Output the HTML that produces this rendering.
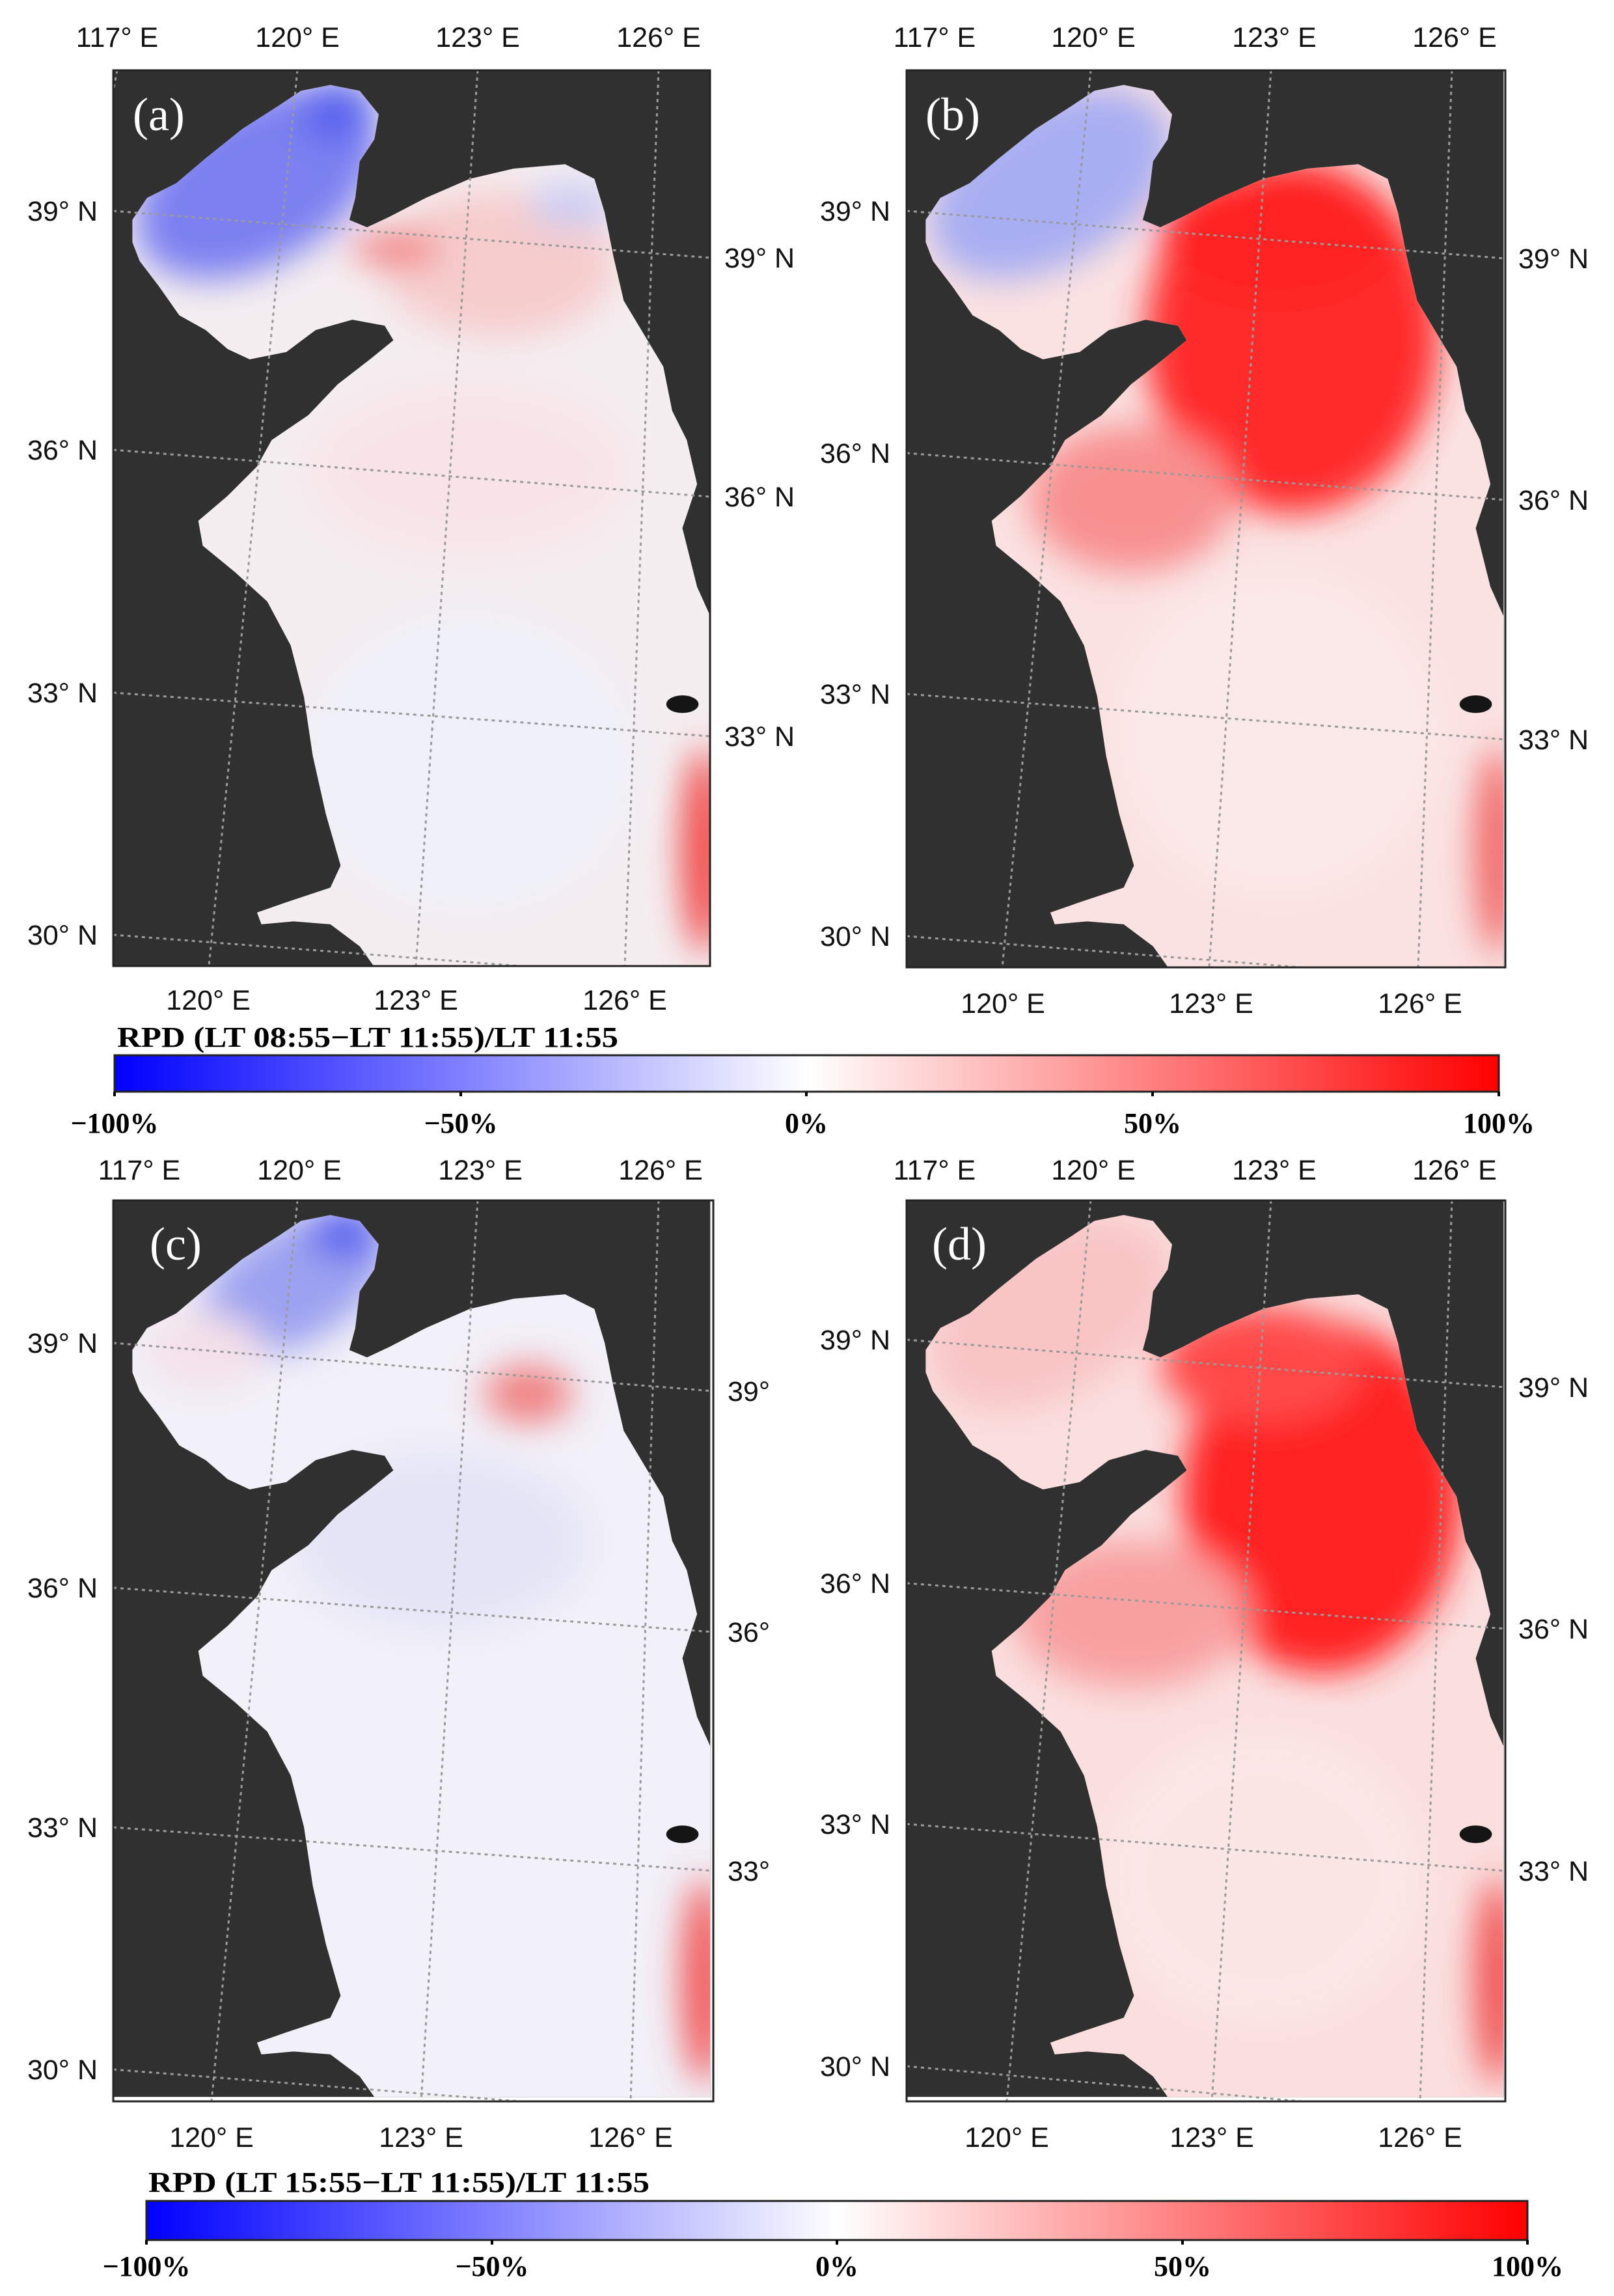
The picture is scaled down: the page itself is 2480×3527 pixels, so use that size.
<!DOCTYPE html>
<html><head><meta charset="utf-8"><style>html,body{margin:0;padding:0;background:#fff}svg{display:block}</style></head>
<body>
<svg width="2480" height="3527" viewBox="0 0 2480 3527" xmlns="http://www.w3.org/2000/svg">
<defs>
<clipPath id="sea" clipPathUnits="userSpaceOnUse">
<polygon points="90,150 100,135 120,125 140,108 165,88 190,72 205,62 225,58 245,62 258,78 255,95 245,110 242,135 238,150 250,155 265,148 290,135 320,122 350,115 385,112 405,122 412,145 418,175 425,205 440,230 452,250 458,280 468,300 475,330 465,360 475,400 484,420 484,659 255,659 245,645 225,630 200,628 178,630 175,622 195,615 225,605 232,590 222,555 213,515 207,475 198,440 182,410 160,390 138,372 135,355 155,338 175,318 185,300 210,283 230,262 252,245 268,232 262,222 240,218 215,225 195,240 170,245 155,238 140,225 122,215 108,195 95,178 90,165"/>
</clipPath>
<filter id="bl" x="-50%" y="-50%" width="200%" height="200%"><feGaussianBlur stdDeviation="12"/></filter>
<linearGradient id="bwr" x1="0" x2="1" y1="0" y2="0">
<stop offset="0" stop-color="#0000ff"/><stop offset="0.5" stop-color="#ffffff"/><stop offset="1" stop-color="#ff0000"/>
</linearGradient>
</defs>

<g font-family="Liberation Sans, sans-serif" font-size="43" fill="#111">

<!-- Panel A -->
<g transform="translate(174,108) scale(2.254) translate(-77,-48)">
<rect x="77" y="48" width="407" height="611" fill="#303030"/>
<g clip-path="url(#sea)">
<rect x="77" y="48" width="407" height="611" fill="#f5eef1"/>
<g filter="url(#bl)">
<ellipse cx="175" cy="125" rx="90" ry="55" fill="#7b80f0" transform="rotate(-30 175 125)"/>
<ellipse cx="230" cy="75" rx="25" ry="20" fill="#5560ee"/>
<ellipse cx="340" cy="180" rx="80" ry="50" fill="#f6cccc"/>
<ellipse cx="270" cy="170" rx="30" ry="10" fill="#f06a6a"/>
<ellipse cx="320" cy="320" rx="110" ry="60" fill="#f8e4e8"/>
<ellipse cx="320" cy="520" rx="110" ry="100" fill="#eef0fa"/>
<ellipse cx="480" cy="580" rx="15" ry="70" fill="#f04040"/>
<ellipse cx="390" cy="140" rx="30" ry="15" fill="#c8ccf4"/>
</g>
</g>
<ellipse cx="465" cy="480" rx="11" ry="6" fill="#151515"/>
</g>

<!-- Panel B -->
<g transform="translate(1393,108) scale(2.254) translate(-77,-48)">
<rect x="77" y="48" width="407" height="611" fill="#303030"/>
<g clip-path="url(#sea)">
<rect x="77" y="48" width="407" height="611" fill="#fbe2e2"/>
<g filter="url(#bl)">
<ellipse cx="175" cy="125" rx="90" ry="55" fill="#a8aef2" transform="rotate(-30 175 125)"/>
<ellipse cx="340" cy="230" rx="100" ry="120" fill="#ff2a2a"/>
<ellipse cx="330" cy="160" rx="80" ry="45" fill="#ff2020"/>
<ellipse cx="230" cy="340" rx="70" ry="50" fill="#f89090"/>
<ellipse cx="330" cy="500" rx="110" ry="110" fill="#fbe8e8"/>
<ellipse cx="480" cy="580" rx="15" ry="70" fill="#f06060"/>
</g>
</g>
<ellipse cx="465" cy="480" rx="11" ry="6" fill="#151515"/>
</g>

<!-- Panel C -->
<g transform="translate(174,1844) scale(2.254) translate(-77,-48)">
<rect x="77" y="48" width="407" height="611" fill="#303030"/>
<g clip-path="url(#sea)">
<rect x="77" y="48" width="407" height="611" fill="#f2f0f8"/>
<g filter="url(#bl)">
<ellipse cx="200" cy="105" rx="70" ry="40" fill="#9ca2f0" transform="rotate(-30 200 105)"/>
<ellipse cx="235" cy="70" rx="25" ry="18" fill="#5a62ee"/>
<ellipse cx="140" cy="150" rx="40" ry="25" fill="#f4e0e8"/>
<ellipse cx="360" cy="180" rx="30" ry="20" fill="#f08080"/>
<ellipse cx="300" cy="280" rx="100" ry="60" fill="#e4e4f6"/>
<ellipse cx="480" cy="580" rx="15" ry="70" fill="#f05050"/>
</g>
</g>
<ellipse cx="465" cy="480" rx="11" ry="6" fill="#151515"/>
</g>

<!-- Panel D -->
<g transform="translate(1393,1844) scale(2.254) translate(-77,-48)">
<rect x="77" y="48" width="407" height="611" fill="#303030"/>
<g clip-path="url(#sea)">
<rect x="77" y="48" width="407" height="611" fill="#fbdfdf"/>
<g filter="url(#bl)">
<ellipse cx="175" cy="125" rx="90" ry="55" fill="#f8c4c4" transform="rotate(-30 175 125)"/>
<ellipse cx="360" cy="250" rx="95" ry="120" fill="#ff2020"/>
<ellipse cx="320" cy="160" rx="70" ry="40" fill="#ff4848"/>
<ellipse cx="230" cy="330" rx="80" ry="50" fill="#f8a0a0"/>
<ellipse cx="320" cy="510" rx="110" ry="100" fill="#fbe6e6"/>
<ellipse cx="480" cy="580" rx="15" ry="70" fill="#f04848"/>
</g>
</g>
<ellipse cx="465" cy="480" rx="11" ry="6" fill="#151515"/>
</g>

<!-- gridlines & frames -->
<g stroke="#9a9a9a" stroke-width="3" stroke-dasharray="5,6" fill="none">
<line x1="180" y1="108" x2="174" y2="140"/>
<line x1="457" y1="108" x2="321" y2="1484"/>
<line x1="734" y1="108" x2="639" y2="1484"/>
<line x1="1012" y1="108" x2="960" y2="1484"/>
<line x1="174" y1="324" x2="1091" y2="396"/>
<line x1="174" y1="691" x2="1091" y2="763"/>
<line x1="174" y1="1064" x2="1091" y2="1131"/>
<line x1="174" y1="1436" x2="800" y2="1484"/>

<line x1="1676" y1="108" x2="1540" y2="1486"/>
<line x1="1953" y1="108" x2="1858" y2="1486"/>
<line x1="2231" y1="108" x2="2179" y2="1486"/>
<line x1="1393" y1="324" x2="2313" y2="397"/>
<line x1="1393" y1="696" x2="2313" y2="768"/>
<line x1="1393" y1="1066" x2="2313" y2="1136"/>
<line x1="1393" y1="1438" x2="2000" y2="1486"/>

<line x1="457" y1="1844" x2="325" y2="3228"/>
<line x1="734" y1="1844" x2="647" y2="3228"/>
<line x1="1012" y1="1844" x2="969" y2="3228"/>
<line x1="174" y1="2063" x2="1096" y2="2137"/>
<line x1="174" y1="2439" x2="1096" y2="2507"/>
<line x1="174" y1="2807" x2="1096" y2="2874"/>
<line x1="174" y1="3179" x2="800" y2="3228"/>

<line x1="1676" y1="1844" x2="1547" y2="3228"/>
<line x1="1953" y1="1844" x2="1862" y2="3228"/>
<line x1="2231" y1="1844" x2="2182" y2="3228"/>
<line x1="1393" y1="2058" x2="2313" y2="2131"/>
<line x1="1393" y1="2432" x2="2313" y2="2502"/>
<line x1="1393" y1="2802" x2="2313" y2="2874"/>
<line x1="1393" y1="3174" x2="2000" y2="3228"/>
</g>
<g stroke="#222" stroke-width="3" fill="none">
<rect x="174" y="108" width="917" height="1376"/>
<rect x="1393" y="108" width="920" height="1378"/>
<rect x="174" y="1844" width="922" height="1384"/>
<rect x="1393" y="1844" width="920" height="1384"/>
</g>

<!-- panel letters -->
<g font-family="Liberation Serif, serif" font-size="72" fill="#fff">
<text x="204" y="200">(a)</text>
<text x="1422" y="200">(b)</text>
<text x="230" y="1935">(c)</text>
<text x="1432" y="1935">(d)</text>
</g>

<!-- top labels -->
<g text-anchor="middle">
<text x="180" y="72">117° E</text><text x="457" y="72">120° E</text><text x="734" y="72">123° E</text><text x="1012" y="72">126° E</text>
<text x="1436" y="72">117° E</text><text x="1680" y="72">120° E</text><text x="1958" y="72">123° E</text><text x="2235" y="72">126° E</text>
<text x="214" y="1812">117° E</text><text x="460" y="1812">120° E</text><text x="738" y="1812">123° E</text><text x="1015" y="1812">126° E</text>
<text x="1436" y="1812">117° E</text><text x="1680" y="1812">120° E</text><text x="1958" y="1812">123° E</text><text x="2235" y="1812">126° E</text>
<!-- bottom labels -->
<text x="320" y="1551">120° E</text><text x="639" y="1551">123° E</text><text x="960" y="1551">126° E</text>
<text x="1541" y="1556">120° E</text><text x="1861" y="1556">123° E</text><text x="2182" y="1556">126° E</text>
<text x="325" y="3298">120° E</text><text x="647" y="3298">123° E</text><text x="969" y="3298">126° E</text>
<text x="1547" y="3298">120° E</text><text x="1862" y="3298">123° E</text><text x="2182" y="3298">126° E</text>
</g>
<!-- left labels -->
<g text-anchor="end">
<text x="150" y="339">39° N</text><text x="150" y="706">36° N</text><text x="150" y="1079">33° N</text><text x="150" y="1451">30° N</text>
<text x="1368" y="339">39° N</text><text x="1368" y="711">36° N</text><text x="1368" y="1081">33° N</text><text x="1368" y="1453">30° N</text>
<text x="150" y="2078">39° N</text><text x="150" y="2454">36° N</text><text x="150" y="2822">33° N</text><text x="150" y="3194">30° N</text>
<text x="1368" y="2073">39° N</text><text x="1368" y="2447">36° N</text><text x="1368" y="2817">33° N</text><text x="1368" y="3189">30° N</text>
</g>
<!-- right labels -->
<g>
<text x="1113" y="411">39° N</text><text x="1113" y="778">36° N</text><text x="1113" y="1146">33° N</text>
<text x="2333" y="412">39° N</text><text x="2333" y="783">36° N</text><text x="2333" y="1151">33° N</text>
<text x="1118" y="2152">39°</text><text x="1118" y="2522">36°</text><text x="1118" y="2889">33°</text>
<text x="2333" y="2146">39° N</text><text x="2333" y="2517">36° N</text><text x="2333" y="2889">33° N</text>
</g>
</g>

<!-- colorbars -->
<g font-family="Liberation Serif, serif" font-weight="bold" font-size="44" fill="#000">
<text x="180" y="1608" textLength="770" lengthAdjust="spacingAndGlyphs">RPD  (LT 08:55−LT 11:55)/LT 11:55</text>
<rect x="176" y="1621" width="2127" height="56" fill="url(#bwr)" stroke="#222" stroke-width="3"/>
<g stroke="#000" stroke-width="4"><line x1="176" y1="1677" x2="176" y2="1684"/><line x1="708" y1="1677" x2="708" y2="1684"/><line x1="1239" y1="1677" x2="1239" y2="1684"/><line x1="1771" y1="1677" x2="1771" y2="1684"/><line x1="2303" y1="1677" x2="2303" y2="1684"/></g>
<g text-anchor="middle"><text x="176" y="1740">−100%</text><text x="708" y="1740">−50%</text><text x="1239" y="1740">0%</text><text x="1771" y="1740">50%</text><text x="2303" y="1740">100%</text></g>

<text x="228" y="3367" textLength="770" lengthAdjust="spacingAndGlyphs">RPD  (LT 15:55−LT 11:55)/LT 11:55</text>
<rect x="225" y="3381" width="2122" height="60" fill="url(#bwr)" stroke="#222" stroke-width="3"/>
<g stroke="#000" stroke-width="4"><line x1="225" y1="3441" x2="225" y2="3448"/><line x1="756" y1="3441" x2="756" y2="3448"/><line x1="1286" y1="3441" x2="1286" y2="3448"/><line x1="1817" y1="3441" x2="1817" y2="3448"/><line x1="2347" y1="3441" x2="2347" y2="3448"/></g>
<g text-anchor="middle"><text x="225" y="3496">−100%</text><text x="756" y="3496">−50%</text><text x="1286" y="3496">0%</text><text x="1817" y="3496">50%</text><text x="2347" y="3496">100%</text></g>
</g>
</svg>
</body></html>
